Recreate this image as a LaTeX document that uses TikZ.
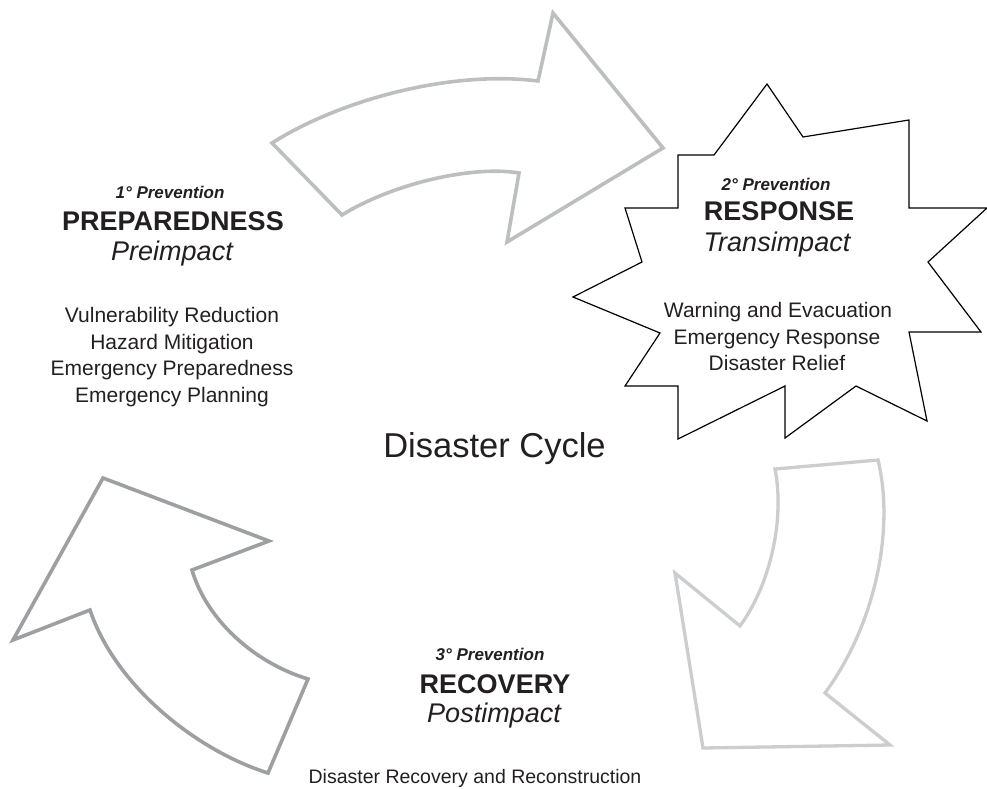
\documentclass[tikz,border=0pt]{standalone}
\usepackage{fontspec}
\setmainfont{Liberation Sans}
\definecolor{txt}{HTML}{231F20}
\definecolor{arrA}{HTML}{BCBEC0}
\definecolor{arrB}{HTML}{CCCDCF}
\definecolor{arrC}{HTML}{9D9FA2}
\tikzset{
  prev/.style={anchor=base, inner sep=0pt, text=txt, font=\fontsize{17}{20}\selectfont\bfseries\itshape},
  phase/.style={anchor=base, inner sep=0pt, text=txt, font=\fontsize{27}{32}\selectfont\bfseries},
  impact/.style={anchor=base, inner sep=0pt, text=txt, font=\fontsize{27}{32}\selectfont\itshape},
  item/.style={anchor=base, inner sep=0pt, text=txt, font=\fontsize{21}{25}\selectfont},
  bigtitle/.style={anchor=base, inner sep=0pt, text=txt, font=\fontsize{34.5}{40}\selectfont},
  cycarrow/.style={line width=3.6pt, line join=miter, fill=white},
  burst/.style={draw=black, line width=1.2pt, line join=miter, fill=white},
}
\begin{document}
\begin{tikzpicture}[x=1pt, y=-1pt]
\useasboundingbox (0,0) rectangle (987,789);

% top arrow
\draw[cycarrow, draw=arrA]
  (272,143) .. controls (340,100) and (450,70) .. (538,81)
  -- (553,13) -- (663,148) -- (507,242) -- (519,173)
  .. controls (470,165) and (390,185) .. (342,215)
  -- cycle;

% right arrow
\draw[cycarrow, draw=arrB, line width=3.3pt]
  (775,469) -- (878,460)
  .. controls (895,530) and (875,625) .. (825,693)
  -- (890,745) -- (703,748) -- (675,573) -- (740,626)
  .. controls (770,585) and (785,520) .. (775,469)
  -- cycle;

% left arrow
\draw[cycarrow, draw=arrC]
  (103,478) -- (269,541) -- (192,570)
  .. controls (206,618) and (252,662) .. (308,679)
  -- (268,773)
  .. controls (195,750) and (115,685) .. (90,610)
  -- (13,640) -- cycle;

% response burst
\draw[burst]
  (678,439) -- (785,386) -- (785,438) -- (856,386) -- (927,421) -- (909,332)
  -- (981,332) -- (928,262) -- (987,208) -- (909,208) -- (909,120) -- (803,137)
  -- (767,84) -- (714,155) -- (678,155) -- (678,208) -- (625,208) -- (642,262)
  -- (573,297) -- (660,333) -- (625,386) -- (678,386) -- cycle;

% preparedness
\node[prev]   (p1) at (170,198) {1° Prevention};
\node[phase]  (p2) at (173,230) {PREPAREDNESS};
\node[impact] (p3) at (172,260) {Preimpact};
\node[item]   (p4) at (172,322) {Vulnerability Reduction};
\node[item]   (p5) at (172,349) {Hazard Mitigation};
\node[item]   (p6) at (172,375.5) {Emergency Preparedness};
\node[item]   (p7) at (172,402) {Emergency Planning};

% response
\node[prev]   (r1) at (776,190) {2° Prevention};
\node[phase]  (r2) at (779,220) {RESPONSE};
\node[impact] (r3) at (777,251) {Transimpact};
\node[item]   (r4) at (778,317) {Warning and Evacuation};
\node[item]   (r5) at (777,344) {Emergency Response};
\node[item]   (r6) at (777,370) {Disaster Relief};

% title
\node[bigtitle] (t) at (494.5,457) {Disaster Cycle};

% recovery
\node[prev]   (c1) at (490,660) {3° Prevention};
\node[phase]  (c2) at (495,693) {RECOVERY};
\node[impact] (c3) at (494,722) {Postimpact};
\node[item, font=\fontsize{19.5}{23}\selectfont] (c4) at (475,783) {Disaster Recovery and Reconstruction};
\end{tikzpicture}
\end{document}
